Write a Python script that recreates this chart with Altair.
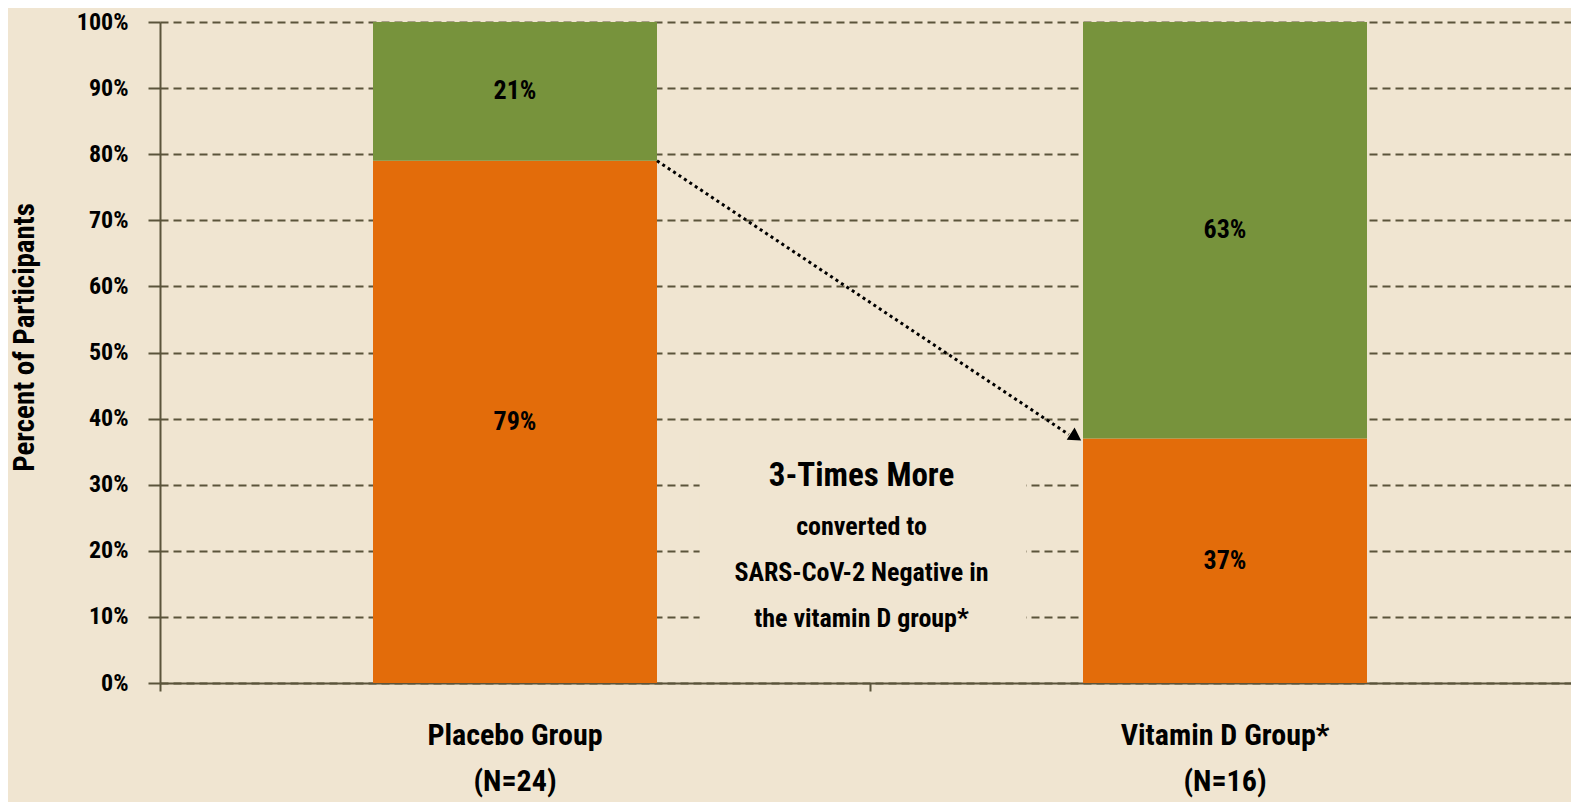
import altair as alt
import pandas as pd

# ---- data ----
groups = ["Placebo Group|(N=24)", "Vitamin D Group*|(N=16)"]
series = ["SARS-CoV-2 Positive", "SARS-CoV-2 Negative"]
positive_pct = [79, 37]   # orange, bottom segment
negative_pct = [21, 63]   # green, top segment
y_ticks = [0, 10, 20, 30, 40, 50, 60, 70, 80, 90, 100]

headline = "3-Times More"
body_lines = ["converted to", "SARS-CoV-2 Negative in", "the vitamin D group*"]

# ---- styles ----
BG = "#f0e5d1"
ORANGE = "#e36c0a"
GREEN = "#77933c"
AXIS = "#5b543b"
FONT = "Roboto Condensed, Liberation Sans Narrow, DejaVu Sans Condensed, sans-serif"

rows = []
for g, p, n in zip(groups, positive_pct, negative_pct):
    rows.append({"group": g, "series": series[0], "value": p, "order": 0})
    rows.append({"group": g, "series": series[1], "value": n, "order": 1})
df = pd.DataFrame(rows)

W, H = 1411, 661
XR = [0, 1420]   # x range slightly wider than the view: plot runs off the right edge

band_scale = alt.Scale(domain=groups, paddingInner=0, paddingOuter=0, range=XR)

x_axis = alt.Axis(
    title=None,
    bandPosition=0,
    labelExpr="split(datum.value, '|')",
    labelFont=FONT, labelFontSize=30, labelFontWeight="bold", labelColor="black",
    labelLineHeight=46, labelBaseline="top", labelPadding=29, labelLimit=0,
    tickSize=8, tickColor=AXIS, tickWidth=2,
    domainColor=AXIS, domainWidth=2, grid=False, labelAngle=0,
)

y_enc = alt.Y(
    "value:Q",
    stack="zero",
    scale=alt.Scale(domain=[0, 100], nice=False),
    axis=alt.Axis(
        values=y_ticks,
        labelExpr="datum.value + '%'",
        title="Percent of Participants",
        titleFont=FONT, titleFontSize=29, titleFontWeight="bold", titleColor="black",
        titleAngle=-90, titleX=-136, titleY=315, titleAlign="center", titleBaseline="middle",
        labelFont=FONT, labelFontSize=24, labelFontWeight="bold", labelColor="black",
        labelPadding=20,
        tickSize=12, tickColor=AXIS, tickWidth=2,
        domainColor=AXIS, domainWidth=2,
        grid=True, gridColor=AXIS, gridDash=[8, 5], gridWidth=2,
    ),
)

color_enc = alt.Color(
    "series:N",
    scale=alt.Scale(domain=series, range=[ORANGE, GREEN]),
    legend=None,
)

bars = alt.Chart(df).mark_bar(width=alt.RelativeBandSize(0.4)).encode(
    x=alt.X("group:N", sort=groups, scale=band_scale, axis=x_axis),
    y=y_enc,
    color=color_enc,
    order=alt.Order("order:Q"),
)

bar_labels = (
    alt.Chart(df)
    .transform_stack(stack="value", groupby=["group"], as_=["y0", "y1"], sort=[alt.SortField("order")])
    .transform_calculate(mid="(datum.y0 + datum.y1) / 2", lbl="datum.value + '%'")
    .mark_text(font=FONT, fontSize=26, fontWeight="bold", color="black", baseline="middle")
    .encode(x=alt.X("group:N", sort=groups, scale=band_scale, axis=x_axis),
            y=alt.Y("mid:Q"), text="lbl:N")
)

base = alt.layer(bars, bar_labels)

QSCALE = alt.Scale(domain=[0, 2], nice=False, zero=True, range=XR)


def qx(v):
    return alt.XDatum(v, type="quantitative", scale=QSCALE, axis=None)


one = pd.DataFrame({"a": [0]})

# annotation box (covers grid lines behind the text)
box = alt.Chart(one).mark_rect(color=BG).encode(
    x=qx(0.76), x2=alt.X2Datum(1.22), y=alt.YDatum(5.7), y2=alt.Y2Datum(36.3)
)

head_txt = alt.Chart(one).mark_text(
    font=FONT, fontSize=33, fontWeight="bold", color="black", baseline="middle"
).encode(x=qx(0.988), y=alt.YDatum(31.3), text=alt.value(headline))

body_txt = alt.Chart(one).mark_text(
    font=FONT, fontSize=26, fontWeight="bold", color="black",
    baseline="middle", lineHeight=46,
).encode(x=qx(0.988), y=alt.YDatum(23.6), text=alt.value(body_lines))

# arrow from top of Placebo positive segment to top of Vitamin D positive segment
arrow_df = pd.DataFrame({"ax": [0.70, 1.28], "ay": [positive_pct[0], positive_pct[1] + 0.6]})
arrow_line = alt.Chart(arrow_df).mark_line(
    color="black", strokeWidth=3, strokeDash=[3, 3.5]
).encode(
    x=alt.X("ax:Q", scale=QSCALE, axis=None),
    y=alt.Y("ay:Q"),
)
arrow_head = alt.Chart(pd.DataFrame({"hx": [1.29], "hy": [positive_pct[1] + 0.2]})).mark_point(
    shape="triangle-right", filled=True, color="black", opacity=1, size=210, angle=33
).encode(
    x=alt.X("hx:Q", scale=QSCALE, axis=None),
    y=alt.Y("hy:Q"),
)

notes = alt.layer(box, head_txt, body_txt, arrow_line, arrow_head)

chart = (
    alt.layer(base, notes)
    .resolve_scale(x="independent")
    .properties(
        width=W,
        height=H,
        background=BG,
        autosize=alt.AutoSizeParams(type="none"),
        padding={"left": 152, "top": 14, "right": 0, "bottom": 119},
    )
    .configure_view(stroke=None)
)

chart.save("out.html", embed_options={"renderer": "svg", "actions": False})
